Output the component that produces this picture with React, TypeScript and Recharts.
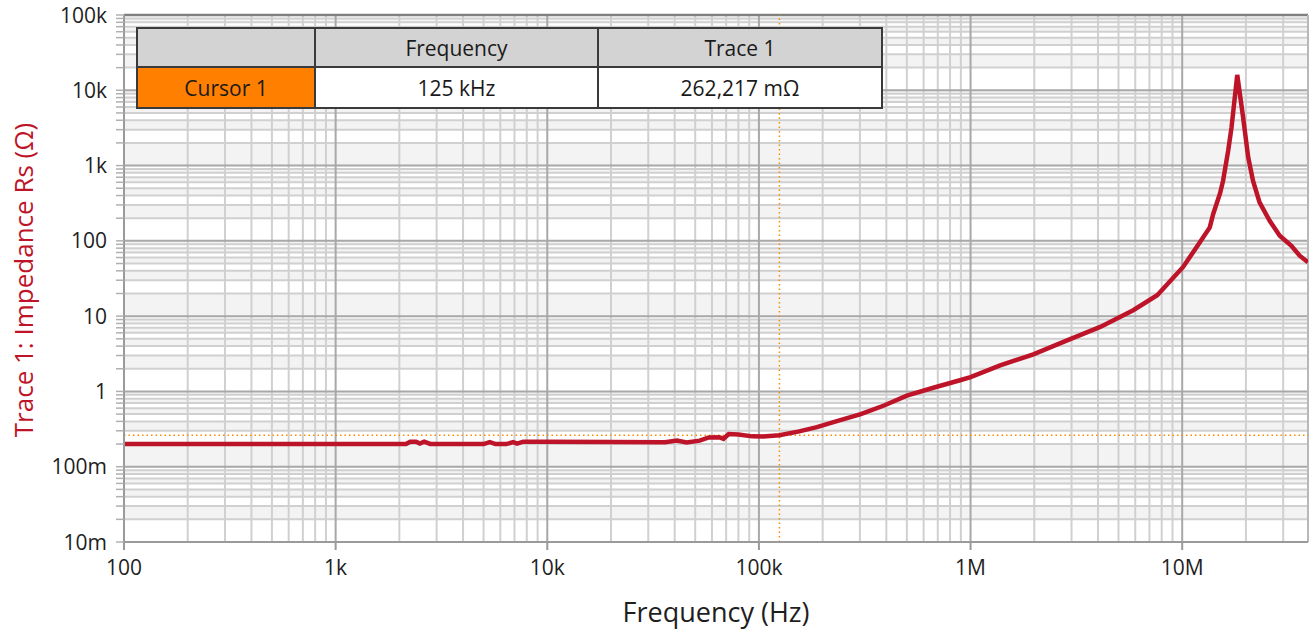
import { LineChart, Line, XAxis, YAxis, ReferenceLine, ReferenceArea, Label } from 'recharts'

// sweep: frequency (Hz) and series resistance (ohm)
const freqHz = [
  100, 300, 1000, 2000, 2150, 2250, 2400, 2500, 2620, 2800, 3000, 5000, 5350, 5700, 6400, 6900, 7200, 7700,
  8300, 10000, 20000, 36000, 41000, 45500, 52500, 58000, 65000, 68000, 72000, 80000, 93000, 105000, 125000,
  155000, 188000, 225000, 303000, 390000, 500000, 667000, 900000, 1000000, 1380000, 1980000, 2860000,
  4100000, 5870000, 7620000, 10100000, 12100000, 13500000, 14000000, 15100000, 15600000, 16500000,
  17100000, 18200000, 19400000, 20500000, 21600000, 23200000, 25900000, 28900000, 32800000, 35900000, 39300000,
]
const impedanceOhm = [
  0.2, 0.2, 0.2, 0.2, 0.2, 0.215, 0.215, 0.203, 0.215, 0.201, 0.2, 0.2, 0.212, 0.2, 0.2, 0.212, 0.203, 0.215,
  0.215, 0.215, 0.213, 0.212, 0.222, 0.21, 0.222, 0.245, 0.247, 0.235, 0.272, 0.268, 0.253, 0.252, 0.262,
  0.295, 0.336, 0.39, 0.5, 0.65, 0.88, 1.12, 1.42, 1.55, 2.22, 3.1, 4.77,
  7.2, 12, 19, 45, 95, 151, 226, 430, 630, 1590,
  3200, 16000, 4360, 1290, 630, 324, 185, 117, 86, 63.5, 52,
]

const xMajorTicks = [100, 1e3, 1e4, 1e5, 1e6, 1e7]
const xTickLabels = ['100', '1k', '10k', '100k', '1M', '10M']
const yMajorTicks = [0.01, 0.1, 1, 10, 100, 1e3, 1e4, 1e5]
const yTickLabels = ['10m', '100m', '1', '10', '100', '1k', '10k', '100k']
const xDomain = [100, 39300000]

const cursorFreq = 125000
const cursorValue = 0.262217

const data = freqHz.map((f, i) => ({ f, z: impedanceOhm[i] }))

// 2..9 multiples inside each decade for the minor grid
const minorsOf = (majors: number[], max: number) =>
  majors.flatMap(d => [2, 3, 4, 5, 6, 7, 8, 9].map(m => m * d)).filter(v => v < max)
const xMinor = minorsOf(xMajorTicks, xDomain[1])
const yMinor = minorsOf(yMajorTicks, 1e5)
const yAll = [...yMajorTicks, ...yMinor].sort((a, b) => a - b)
const bands = yAll.slice(0, -1).map((v, i) => ({ y1: v, y2: yAll[i + 1], shaded: i % 2 === 1 }))

const RED = '#be1429'
const ORANGE = '#ff8a00'

const YTick = (props: any) => {
  const { x, y, payload } = props
  const i = yMajorTicks.indexOf(payload.value)
  if (i < 0) return null
  return (
    <text x={x} y={y} dy="0.36em" textAnchor="end" fontSize={21} fill="#1e1e1e">
      {yTickLabels[i]}
    </text>
  )
}

const cell = (bg: string, extra: object = {}) => ({
  background: bg,
  display: 'flex',
  alignItems: 'center',
  justifyContent: 'center',
  fontSize: 21,
  color: '#1a1a1a',
  ...extra,
})

function CursorTable() {
  const line = '2px solid #3a3a3a'
  return (
    <div
      style={{
        position: 'absolute',
        left: 136,
        top: 27,
        display: 'grid',
        gridTemplateColumns: '178px 283px 282px',
        gridTemplateRows: '39px 39px',
        border: line,
      }}
    >
      <div style={cell('#d3d3d3', { borderRight: line, borderBottom: line })} />
      <div style={cell('#d3d3d3', { borderRight: line, borderBottom: line })}>Frequency</div>
      <div style={cell('#d3d3d3', { borderBottom: line })}>Trace 1</div>
      <div style={cell('#ff8000', { borderRight: line })}>Cursor 1</div>
      <div style={cell('#ffffff', { borderRight: line })}>125 kHz</div>
      <div style={cell('#ffffff')}>262,217 mΩ</div>
    </div>
  )
}

export default function App() {
  return (
    <div style={{ position: 'fixed', left: 0, top: 0, width: 1314, height: 632, background: '#fff', fontFamily: "'Open Sans', sans-serif" }}>
      <LineChart width={1314} height={632} data={data} margin={{ top: 15, right: 6, bottom: 0, left: 0 }}>
        <XAxis
          dataKey="f"
          type="number"
          scale="log"
          domain={xDomain}
          allowDataOverflow
          ticks={xMajorTicks}
          tickFormatter={(v: number) => xTickLabels[xMajorTicks.indexOf(v)]}
          tick={{ fontSize: 21, fill: '#1e1e1e' }}
          tickSize={8}
          tickMargin={10}
          height={90}
          axisLine={{ stroke: '#9a9a9a', strokeWidth: 2 }}
          tickLine={{ stroke: '#9a9a9a', strokeWidth: 2 }}
        >
          <Label value="Frequency (Hz)" position="insideBottom" offset={10} style={{ fontSize: 27, fill: '#1e1e1e' }} />
        </XAxis>
        <YAxis
          type="number"
          scale="log"
          domain={[0.01, 1e5]}
          allowDataOverflow
          ticks={yAll}
          interval={0}
          tick={<YTick />}
          tickSize={8}
          tickMargin={9}
          width={124}
          axisLine={{ stroke: '#9a9a9a', strokeWidth: 2 }}
          tickLine={{ stroke: '#b0b0b0', strokeWidth: 1.5 }}
        >
          <Label
            content={() => (
              <text x={33} y={280} transform="rotate(-90, 33, 280)" textAnchor="middle" fontSize={26} fill={RED}>
                Trace 1: Impedance Rs (Ω)
              </text>
            )}
          />
        </YAxis>

        {bands.map(b => (
          <ReferenceArea
            key={`b${b.y1}`}
            y1={b.y1}
            y2={b.y2}
            fill={b.shaded ? '#f3f3f3' : '#ffffff'}
            fillOpacity={1}
            stroke="none"
            ifOverflow="hidden"
          />
        ))}
        {yMinor.map(v => (
          <ReferenceLine key={`ym${v}`} y={v} stroke="#d0d0d0" strokeWidth={2} />
        ))}
        {xMinor.map(v => (
          <ReferenceLine key={`xm${v}`} x={v} stroke="#d0d0d0" strokeWidth={2} />
        ))}
        {yMajorTicks.slice(1, -1).map(v => (
          <ReferenceLine key={`yM${v}`} y={v} stroke="#a8a8a8" strokeWidth={2} />
        ))}
        {xMajorTicks.slice(1).map(v => (
          <ReferenceLine key={`xM${v}`} x={v} stroke="#a8a8a8" strokeWidth={2} />
        ))}
        <ReferenceLine y={1e5} stroke="#808080" strokeWidth={2.5} />
        <ReferenceLine x={xDomain[1]} stroke="#b8b8b8" strokeWidth={2} />

        <ReferenceLine x={cursorFreq} stroke={ORANGE} strokeWidth={1.5} strokeDasharray="1.5 3" />
        <ReferenceLine y={cursorValue} stroke={ORANGE} strokeWidth={1.5} strokeDasharray="1.5 3" />

        <Line
          dataKey="z"
          type="linear"
          stroke={RED}
          strokeWidth={4.5}
          dot={false}
          activeDot={false}
          isAnimationActive={false}
        />
      </LineChart>
      <CursorTable />
    </div>
  )
}
